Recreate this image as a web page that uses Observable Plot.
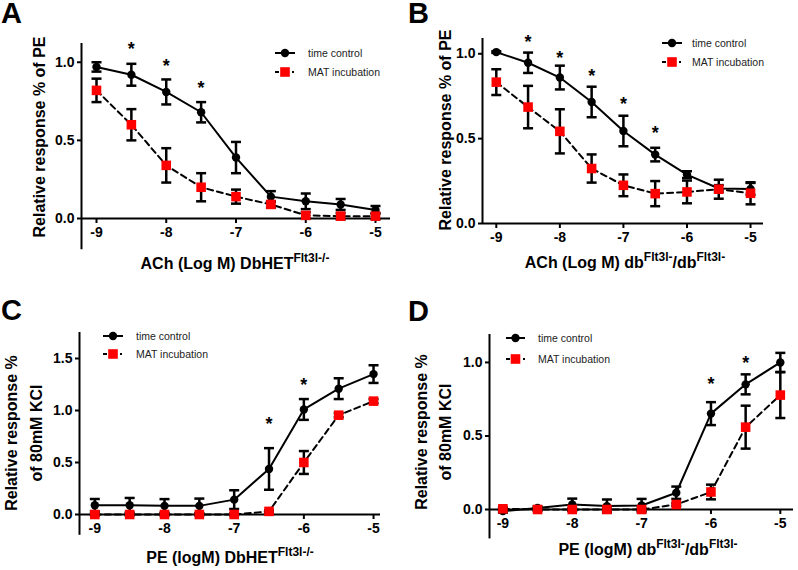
<!DOCTYPE html>
<html><head><meta charset="utf-8">
<script src="https://cdn.jsdelivr.net/npm/d3@7"></script>
<script src="https://cdn.jsdelivr.net/npm/@observablehq/plot@0.6"></script>
<style>
html,body{margin:0;padding:0;background:#fff;}
#fig{position:relative;width:798px;height:570px;overflow:hidden;background:#fff;}
.panel{position:absolute;}
.panel svg{max-width:none !important;overflow:visible;}
</style></head><body><div id="fig"></div>
<script>
// ---- shared categories / ticks ----
const logConc = [-9, -8.5, -8, -7.5, -7, -6.5, -6, -5.5, -5];
const xTickValues = [-9, -8, -7, -6, -5];
const seriesNames = ["time control", "MAT incubation"];

// ---- Panel A: ACh, DbHET Flt3l-/- ----
const aTime    = [0.97, 0.92, 0.81, 0.68, 0.39, 0.14, 0.11, 0.09, 0.055];
const aTimeErr = [0.03, 0.07, 0.08, 0.065, 0.10, 0.035, 0.05, 0.035, 0.025];
const aMat     = [0.82, 0.60, 0.34, 0.20, 0.14, 0.09, 0.02, 0.015, 0.015];
const aMatErr  = [0.075, 0.10, 0.11, 0.09, 0.045, 0.02, 0.02, 0.02, 0.02];
const aStarX = [-8.5, -8, -7.5];
const aStarY = [1.11, 1.0, 0.86];
const aYTicks = [0, 0.5, 1.0];

// ---- Panel B: ACh, db Flt3l-/db Flt3l- ----
const bTime    = [1.01, 0.947, 0.86, 0.716, 0.545, 0.406, 0.288, 0.206, 0.204];
const bTimeErr = [0.005, 0.06, 0.07, 0.09, 0.09, 0.04, 0.02, 0.02, 0.035];
const bMat     = [0.833, 0.686, 0.543, 0.324, 0.225, 0.176, 0.186, 0.202, 0.178];
const bMatErr  = [0.076, 0.125, 0.13, 0.083, 0.064, 0.074, 0.067, 0.056, 0.065];
const bStarX = [-8.5, -8, -7.5, -7, -6.5];
const bStarY = [1.094, 1.0, 0.894, 0.729, 0.553];
const bYTicks = [0, 0.5, 1.0];

// ---- Panel C: PE, DbHET Flt3l-/- ----
const cTime    = [0.089, 0.089, 0.083, 0.083, 0.143, 0.438, 1.01, 1.21, 1.35];
const cTimeErr = [0.06, 0.07, 0.065, 0.07, 0.09, 0.2, 0.1, 0.1, 0.085];
const cMat     = [0, 0, 0, 0, 0, 0.03, 0.50, 0.955, 1.09];
const cMatErr  = [0.01, 0.01, 0.01, 0.01, 0.01, 0.01, 0.11, 0.02, 0.02];
const cStarX = [-6.5, -6];
const cStarY = [0.907, 1.284];
const cYTicks = [0, 0.5, 1.0, 1.5];

// ---- Panel D: PE, db Flt3l-/db Flt3l- ----
const dTime    = [-0.011, 0.011, 0.034, 0.023, 0.027, 0.114, 0.652, 0.851, 1.0];
const dTimeErr = [0.01, 0.01, 0.04, 0.045, 0.045, 0.042, 0.078, 0.068, 0.065];
const dMat     = [0.005, 0, 0, 0, 0, 0.034, 0.119, 0.56, 0.778];
const dMatErr  = [0.01, 0.01, 0.01, 0.01, 0.01, 0.01, 0.05, 0.146, 0.156];
const dStarX = [-6, -5.5];
const dStarY = [0.88, 1.025];
const dYTicks = [0, 0.5, 1.0];

// ---- layout (positions/styles only) ----
const FONT = "'Liberation Sans', Arial, Helvetica, sans-serif";
const RED = "#ff0000";
const panels = [
  {letter:"A", left:0, top:0, width:400, height:285, mt:43, mb:67, ml:81, mr:10,
   xDomain:[-9.215,-4.785], yDomain:[0,1.12], yAxis:[-0.2,1.12],
   time:aTime, timeErr:aTimeErr, mat:aMat, matErr:aMatErr, starX:aStarX, starY:aStarY, yTicks:aYTicks,
   yTitle:[{t:"Relative response % of PE", x:39, y:137}],
   xTitle:{x:235, y:269, parts:[["ACh (Log M) DbHET",0],["Flt3l-/-",1]]},
   legend:{x0:275, x1:295, y0:53, y1:72, tx:308}, letterPos:[1,23]},
  {letter:"B", left:400, top:0, width:398, height:285, mt:38, mb:62, ml:82, mr:35,
   xDomain:[-9.217,-4.796], yDomain:[0,1.09], yAxis:[0,1.09],
   time:bTime, timeErr:bTimeErr, mat:bMat, matErr:bMatErr, starX:bStarX, starY:bStarY, yTicks:bYTicks,
   yTitle:[{t:"Relative response % of PE", x:45, y:130}],
   xTitle:{x:225, y:268, parts:[["ACh (Log M) db",0],["Flt3l-",1],["/db",0],["Flt3l-",1]]},
   legend:{x0:262, x1:282, y0:43, y1:62, tx:292}, letterPos:[8,23]},
  {letter:"C", left:0, top:285, width:400, height:285, mt:47, mb:56, ml:79, mr:20,
   xDomain:[-9.22,-4.9], yDomain:[0,1.75], yAxis:[-0.2,1.75],
   time:cTime, timeErr:cTimeErr, mat:cMat, matErr:cMatErr, starX:cStarX, starY:cStarY, yTicks:cYTicks,
   yTitle:[{t:"Relative response %", x:11, y:148},{t:"of 80mM KCl", x:36, y:148}],
   xTitle:{x:230, y:278, parts:[["PE (logM) DbHET",0],["Flt3l-/-",1]]},
   legend:{x0:103, x1:123, y0:51, y1:69, tx:136}, letterPos:[1,35]},
  {letter:"D", left:400, top:285, width:398, height:285, mt:49, mb:61, ml:89, mr:5,
   xDomain:[-9.193,-4.81], yDomain:[0,1.19], yAxis:[-0.2,1.19],
   time:dTime, timeErr:dTimeErr, mat:dMat, matErr:dMatErr, starX:dStarX, starY:dStarY, yTicks:dYTicks,
   yTitle:[{t:"Relative response %", x:21, y:147},{t:"of 80mM KCl", x:45, y:147}],
   xTitle:{x:248, y:270, parts:[["PE (logM) db",0],["Flt3l-",1],["/db",0],["Flt3l-",1]]},
   legend:{x0:106, x1:125, y0:53, y1:74, tx:138}, letterPos:[8,36]}
];

const capSymbol = {draw(ctx, size){ const w = Math.sqrt(size/Math.PI); ctx.moveTo(-w,0); ctx.lineTo(w,0); }};

const fig = document.getElementById("fig");
for (const p of panels) {
  const time = logConc.map((x,i)=>({x, y:p.time[i], e:p.timeErr[i], s:seriesNames[0]}));
  const mat  = logConc.map((x,i)=>({x, y:p.mat[i],  e:p.matErr[i],  s:seriesNames[1]}));
  const all = time.concat(mat);
  const stars = p.starX.map((x,i)=>({x, y:p.starY[i]}));
  const svg = Plot.plot({
    width:p.width, height:p.height,
    marginTop:p.mt, marginBottom:p.mb, marginLeft:p.ml, marginRight:p.mr,
    x:{domain:p.xDomain}, y:{domain:p.yDomain},
    style:{fontFamily:FONT, fontSize:"14px", fontWeight:"bold", color:"black", background:"white", overflow:"visible"},
    marks:[
      Plot.ruleY([0], {stroke:"black", strokeWidth:2}),
      Plot.ruleX([p.xDomain[0]], {y1:p.yAxis[0], y2:p.yAxis[1], stroke:"black", strokeWidth:2}),
      Plot.axisX({ticks:xTickValues, tickSize:5, tickPadding:4, tickFormat:d=>String(d), label:null, strokeWidth:2}),
      Plot.axisY({ticks:p.yTicks, tickSize:4, tickPadding:3, tickFormat:d3.format(".1f"), label:null, strokeWidth:2}),
      Plot.ruleX(all, {x:"x", y1:d=>d.y-d.e, y2:d=>d.y+d.e, stroke:"black", strokeWidth:2.5}),
      Plot.dot(all, {x:"x", y:d=>d.y+d.e, symbol:capSymbol, r:5, stroke:"black", strokeWidth:2.5}),
      Plot.dot(all, {x:"x", y:d=>d.y-d.e, symbol:capSymbol, r:5, stroke:"black", strokeWidth:2.5}),
      Plot.line(time, {x:"x", y:"y", stroke:"black", strokeWidth:2}),
      Plot.line(mat, {x:"x", y:"y", stroke:"black", strokeWidth:2, strokeDasharray:"6,4"}),
      Plot.dot(time, {x:"x", y:"y", r:4.2, fill:"black"}),
      Plot.dot(mat, {x:"x", y:"y", symbol:"square", r:5.4, fill:RED}),
      Plot.text(stars, {x:"x", y:"y", text:()=>"*", fontSize:18, fontWeight:"bold", dy:4})
    ]
  });
  const s = d3.select(svg);
  // panel letter
  s.append("text").attr("x", p.letterPos[0]).attr("y", p.letterPos[1]).attr("text-anchor","start")
    .attr("font-size", 29).attr("font-weight", "bold").attr("font-family", FONT).attr("fill","black").text(p.letter);
  // y title
  for (const yt of p.yTitle) {
    s.append("text").attr("transform", `translate(${yt.x},${yt.y}) rotate(-90)`)
      .attr("text-anchor","middle").attr("dy","0.35em")
      .attr("font-size", 16).attr("font-weight","bold").attr("font-family", FONT).attr("fill","black").text(yt.t);
  }
  // x title with superscripts
  const xt = s.append("text").attr("x", p.xTitle.x).attr("y", p.xTitle.y).attr("text-anchor","middle")
    .attr("font-weight","bold").attr("font-family", FONT).attr("fill","black").attr("font-size",16);
  let raised = false;
  for (const [txt, sup] of p.xTitle.parts) {
    const ts = xt.append("tspan").text(txt);
    if (sup && !raised) { ts.attr("font-size",12).attr("dy",-7); raised = true; }
    else if (sup) { ts.attr("font-size",12); }
    else if (!sup && raised) { ts.attr("dy",7); raised = false; }
  }
  // legend
  const lg = p.legend, g = s.append("g").attr("text-anchor","start");
  g.append("line").attr("x1",lg.x0).attr("x2",lg.x1).attr("y1",lg.y0).attr("y2",lg.y0).attr("stroke","black").attr("stroke-width",2);
  g.append("circle").attr("cx",(lg.x0+lg.x1)/2).attr("cy",lg.y0).attr("r",4.2).attr("fill","black");
  g.append("line").attr("x1",lg.x0).attr("x2",lg.x1).attr("y1",lg.y1).attr("y2",lg.y1).attr("stroke","black").attr("stroke-width",2).attr("stroke-dasharray","4,13,2");
  g.append("rect").attr("x",(lg.x0+lg.x1)/2-4.8).attr("y",lg.y1-4.8).attr("width",9.6).attr("height",9.6).attr("fill",RED);
  [[lg.y0, seriesNames[0]],[lg.y1, seriesNames[1]]].forEach(([yy,t])=>{
    g.append("text").attr("x",lg.tx).attr("y",yy).attr("dy","0.35em").attr("text-anchor","start").attr("font-size",10.5)
      .attr("font-weight","normal").attr("font-family",FONT).attr("fill","#222").text(t);
  });
  const div = document.createElement("div");
  div.className = "panel";
  div.style.left = p.left + "px"; div.style.top = p.top + "px";
  div.style.width = p.width + "px"; div.style.height = p.height + "px";
  div.appendChild(svg);
  fig.appendChild(div);
}
</script></body></html>
